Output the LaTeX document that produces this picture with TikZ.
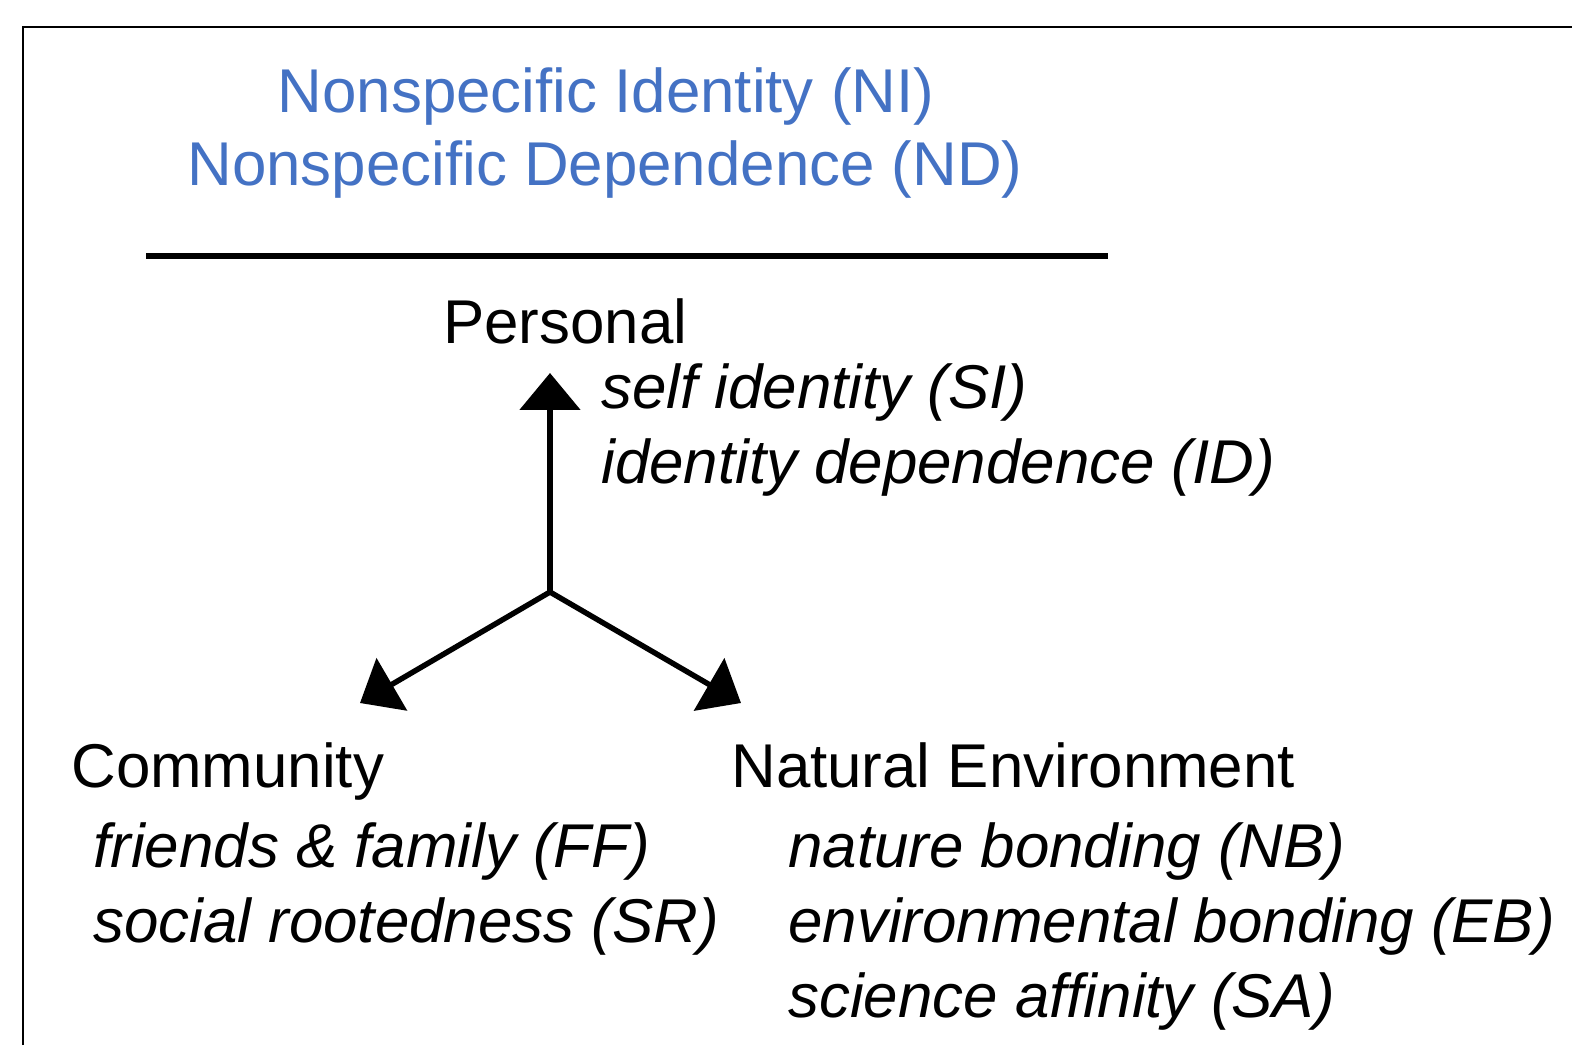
\documentclass[tikz,border=0pt]{standalone}
\usepackage{fontspec}
\setmainfont{Liberation Sans}
\usetikzlibrary{arrows.meta}
\definecolor{titleblue}{RGB}{68,114,196}

\tikzset{
  txt/.style={font=\fontsize{35.2}{42}\selectfont, inner sep=0pt, anchor=base west},
  itm/.style={txt, font=\fontsize{35.2}{42}\selectfont\itshape},
  ttl/.style={txt, anchor=base, text=titleblue},
}

\begin{document}
\begin{tikzpicture}[x=0.02cm, y=-0.02cm, >={Triangle[length=0.74cm, width=1.2cm]}]
    \useasboundingbox (0,0) rectangle (1572,1045);
    % frame
    \draw[line width=1.1pt] (23,1045) -- (23,27) -- (1572,27);

    % Title
    \node[ttl] (ni) at (606,112) {Nonspecific Identity (NI)};
    \node[ttl] (nd) at (605,185) {Nonspecific Dependence (ND)};
    \draw[line width=3.4pt] (146,256) -- (1108,256);

    % Personal
    \node[txt] (pers) at (443,343) {Personal};
    \node[itm] (si) at (601,408) {self identity (SI)};
    \node[itm] (id) at (601,483) {identity dependence (ID)};

    % Community
    \node[txt] (comm) at (71,787) {Community};
    \node[itm] (ff) at (93,867) {friends \& family (FF)};
    \node[itm] (sr) at (93,942) {social rootedness (SR)};

    % Natural Environment
    \node[txt] (env) at (731,787) {Natural Environment};
    \node[itm] (nb) at (788,867) {nature bonding (NB)};
    \node[itm] (eb) at (788,942) {environmental bonding (EB)};
    \node[itm] (sa) at (788,1017) {science affinity (SA)};

    % Axes
    \coordinate (o) at (550,592);
    \coordinate (up) at (550,373);
    \coordinate (dl) at (360,703);
    \coordinate (dr) at (741,703);
    \draw[->, line width=3.1pt] (o) -- (up);
    \draw[->, line width=3.1pt] (o) -- (dl);
    \draw[->, line width=3.1pt] (o) -- (dr);
\end{tikzpicture}
\end{document}
